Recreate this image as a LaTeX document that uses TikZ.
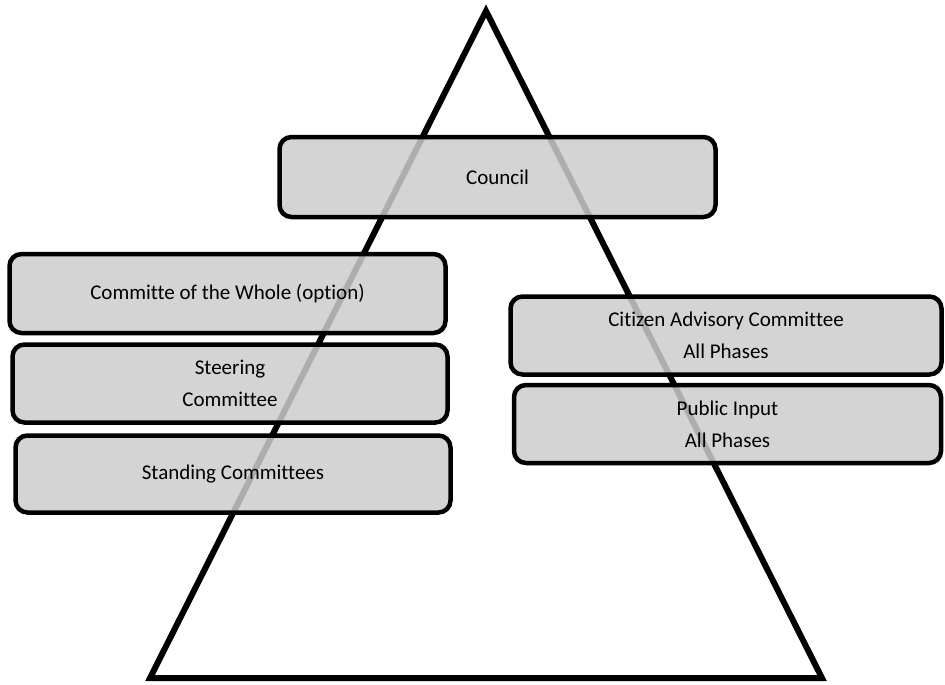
\documentclass[tikz,border=0pt]{standalone}
\usepackage{fontspec}
\setmainfont{Carlito}[Ligatures=NoCommon]

\tikzset{
  panel/.style={draw=black, line width=4.5pt, rounded corners=12pt, fill=black!20,
    fill opacity=0.85, text opacity=1, align=center, font=\fontsize{21}{32}\selectfont,
    inner sep=0pt},
}

\begin{document}
\begin{tikzpicture}[x=1pt,y=-1pt]
            \useasboundingbox (0,0) rectangle (945,685);
            \coordinate (top) at (486,11);
            \coordinate (bl) at (150,678);
            \coordinate (br) at (822,678);
            \draw[line width=6pt] (top) -- (bl) -- (br) -- cycle;
            \node (council) at (497.5,177) [panel,minimum width=436pt,minimum height=80pt] {Council};
            \node (whole) at (227.5,293.5) [panel,minimum width=436pt,minimum height=79pt] {Committe of the Whole (option)};
            \node (steer) at (230,383.5) [panel,minimum width=435pt,minimum height=78pt] {Steering\\Committee};
            \node (stand) at (233,474) [panel,minimum width=435pt,minimum height=77pt] {Standing Committees};
            \node (citizen) at (726,335.5) [panel,minimum width=431pt,minimum height=78pt] {Citizen Advisory Committee\\All Phases};
            \node (public) at (727.5,424) [panel,minimum width=427pt,minimum height=78pt] {Public Input\\All Phases};
        \end{tikzpicture}
\end{document}
